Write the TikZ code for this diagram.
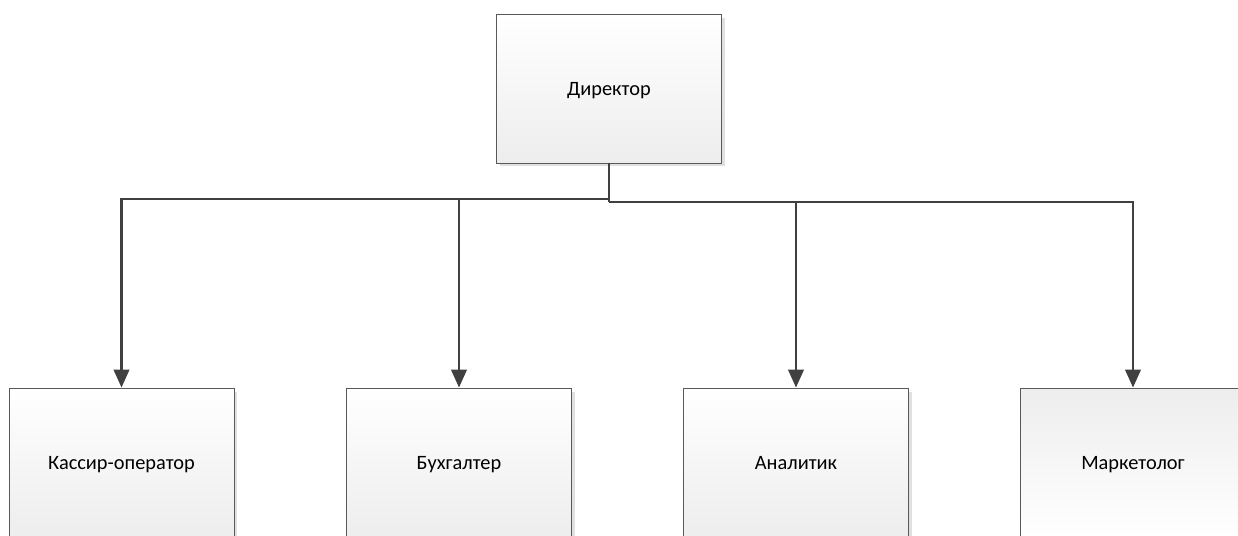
\documentclass[tikz,border=0pt]{standalone}
\usepackage{fontspec}
\setmainfont{Carlito}
\usepackage{tikz}
\usetikzlibrary{arrows.meta,shadows}

\tikzset{
  post/.style={draw=black!65, line width=0.5pt,
    minimum width=4.5cm, minimum height=2.98cm, inner sep=0pt,
    text height=2ex, text depth=0.3ex,
    top color=white, bottom color=black!7,
    drop shadow={shadow xshift=0.07cm, shadow yshift=-0.07cm, fill=black, opacity=0.12},
    font=\fontsize{11.6}{13}\selectfont},
  conn/.style={draw=black!75, line width=1.4pt},
  arr/.style={conn, -{Triangle[length=0.36cm,width=0.31cm]}}
}

\begin{document}
\begin{tikzpicture}[x=0.02cm,y=-0.02cm]
\useasboundingbox (0,0) rectangle (1238,535);
\clip (0,0) rectangle (1238,535);
\node[post] (dir) at (609,88.5) {Директор};
\node[post] (kas) at (121.5,462.5) {Кассир-оператор};
\node[post] (buh) at (459,462.5) {Бухгалтер};
\node[post] (anl) at (796,462.5) {Аналитик};
\node[post, top color=black!7, bottom color=white] (mrk) at (1133,462.5) {Маркетолог};
% junctions
\coordinate (jl) at (609,199);
\coordinate (jr) at (609,202);
\draw[conn] (dir.south) -- (jr);
\draw[arr] (jl) -| (kas.north);
\draw[arr] (jl) -| (buh.north);
\draw[arr] (jr) -| (anl.north);
\draw[arr] (jr) -| (mrk.north);
\end{tikzpicture}
\end{document}
